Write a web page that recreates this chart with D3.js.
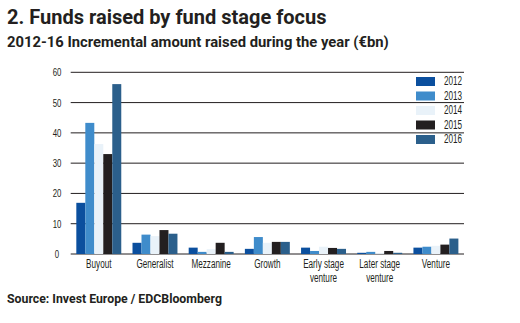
<!DOCTYPE html>
<html>
<head>
<meta charset="utf-8">
<script src="https://cdn.jsdelivr.net/npm/d3@7"></script>
<style>
  body { margin: 0; background: #fff; }
  svg { display: block; }
</style>
</head>
<body>
<script>
var w = 520, h = 323;

var categories = ["Buyout", "Generalist", "Mezzanine", "Growth", "Early stage venture", "Later stage venture", "Venture"];
var years = ["2012", "2013", "2014", "2015", "2016"];
var v2012 = [16.9, 3.7, 2.1, 1.7, 2.1, 0.4, 2.1];
var v2013 = [43.3, 6.4, 0.7, 5.6, 1.0, 0.7, 2.4];
var v2014 = [36.3, 5.9, 1.6, 3.7, 2.4, 0.3, 2.7];
var v2015 = [33.0, 7.9, 3.7, 4.0, 2.0, 1.0, 3.1];
var v2016 = [56.1, 6.7, 0.7, 4.0, 1.7, 0.4, 5.1];
var yTicks = [0, 10, 20, 30, 40, 50, 60];
var colors = ["#0b4f9e", "#3f8ccb", "#e9f2f9", "#231f20", "#2b5f8b"];

var series = [v2012, v2013, v2014, v2015, v2016];

var svg = d3.select("body").append("svg").attr("width", w).attr("height", h);

svg.append("text").text("2. Funds raised by fund stage focus")
  .attr("x", 7).attr("y", 24)
  .attr("font-family", "Roboto").attr("font-weight", "bold").attr("font-size", "20px")
  .attr("fill", "#231f20");

svg.append("text").text("2012-16 Incremental amount raised during the year (€bn)")
  .attr("x", 7).attr("y", 47)
  .attr("font-family", "Roboto").attr("font-weight", "bold").attr("font-size", "14.8px")
  .attr("fill", "#231f20");

svg.append("text").text("Source: Invest Europe / EDCBloomberg")
  .attr("x", 7).attr("y", 303)
  .attr("font-family", "Roboto").attr("font-weight", "bold").attr("font-size", "12.3px")
  .attr("fill", "#231f20");

var plotL = 70.7, plotR = 464, plotT = 72.3, plotB = 254;

var y = d3.scaleLinear().domain([0, 60]).range([plotB, plotT]);
var x0 = d3.scaleBand().domain(categories).range([plotL, plotR]).paddingInner(0.2).paddingOuter(0.1);
var x1 = d3.scaleBand().domain(years).range([0, x0.bandwidth()]);

var narrow = "'Liberation Sans', sans-serif";
var squeeze = 0.68;

// gridlines
svg.selectAll("line.grid").data(yTicks).enter().append("line")
  .attr("class", "grid")
  .attr("x1", plotL).attr("x2", plotR)
  .attr("y1", function(d) { return y(d); })
  .attr("y2", function(d) { return y(d); })
  .attr("stroke", "#231f20").attr("stroke-width", 1);

svg.selectAll("text.ytick").data(yTicks).enter().append("text")
  .attr("class", "ytick")
  .text(function(d) { return d; })
  .attr("transform", function(d) { return "translate(57," + (y(d) + 4) + ") scale(" + squeeze + ",1)"; })
  .attr("text-anchor", "middle")
  .attr("font-family", narrow).attr("font-size", "11.5px")
  .attr("fill", "#231f20");

// bars
var groups = svg.selectAll("g.yr").data(series).enter().append("g")
  .attr("class", "yr")
  .attr("fill", function(d, i) { return colors[i]; });

groups.each(function(s, si) {
  d3.select(this).selectAll("rect").data(s).enter().append("rect")
    .attr("x", function(d, i) { return x0(categories[i]) + x1(years[si]); })
    .attr("y", function(d) { return y(d); })
    .attr("width", x1.bandwidth())
    .attr("height", function(d) { return plotB - y(d); });
});

// category labels
var catLabels = svg.selectAll("text.cat").data(categories).enter().append("text")
  .attr("class", "cat")
  .attr("text-anchor", "middle")
  .attr("transform", function(d) { return "translate(" + (x0(d) + x0.bandwidth() / 2) + ",0) scale(" + squeeze + ",1)"; })
  .attr("font-family", narrow).attr("font-size", "12px")
  .attr("fill", "#231f20");

catLabels.each(function(d) {
  var parts = d.indexOf("venture") > 0 ? [d.replace(" venture", ""), "venture"] : [d];
  d3.select(this).selectAll("tspan").data(parts).enter().append("tspan")
    .attr("x", 0)
    .attr("y", function(p, i) { return 268 + i * 14; })
    .text(function(p) { return p; });
});

// legend
var legend = svg.selectAll("g.legend").data(years).enter().append("g")
  .attr("class", "legend")
  .attr("transform", function(d, i) { return "translate(416," + (77 + i * 14.5) + ")"; });

legend.append("rect")
  .attr("width", 19).attr("height", 9)
  .attr("fill", function(d, i) { return colors[i]; });

legend.append("text").text(function(d) { return d; })
  .attr("transform", "translate(28,8) scale(" + squeeze + ",1)")
  .attr("font-family", narrow).attr("font-size", "12px")
  .attr("fill", "#231f20");
</script>
</body>
</html>
